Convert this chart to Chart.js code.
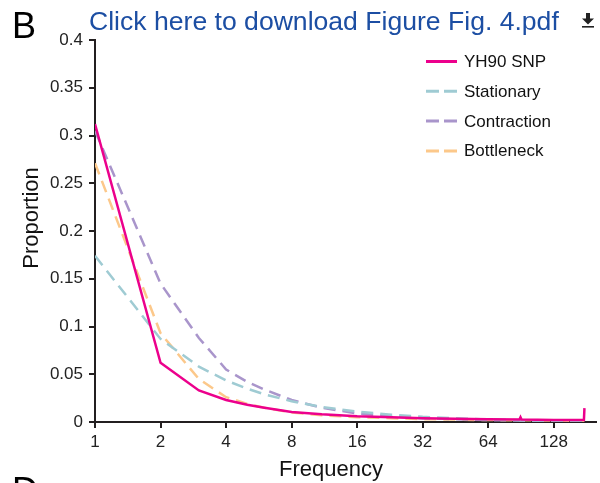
<!DOCTYPE html>
<html>
<head>
<meta charset="utf-8">
<script src="https://cdn.jsdelivr.net/npm/chart.js@4"></script>
<style>
  html, body { margin: 0; padding: 0; background: #fff; }
  canvas { display: block; }
</style>
</head>
<body>
<canvas id="c" width="600" height="483"></canvas>
<script>
// ---- data ----
const seriesLabels = ["YH90 SNP", "Stationary", "Contraction", "Bottleneck"];
const xTickValues = [1, 2, 4, 8, 16, 32, 64, 128];
const yTickStep = 0.05;

const yh90Freq = [1, 2, 3, 4, 5, 6, 8, 11, 16, 23, 32, 45, 64, 89, 90, 91, 128, 176, 177];
const yh90Prop = [0.312, 0.062, 0.033, 0.023, 0.018, 0.015, 0.0105, 0.008, 0.006, 0.005, 0.004, 0.0035, 0.003, 0.0026, 0.005, 0.0026, 0.002, 0.002, 0.0145];

const stationaryFreq = [1, 2, 3, 4, 5, 6, 8, 11, 16, 23, 32, 45, 64, 90, 128, 177];
const stationaryProp = [0.174, 0.087, 0.058, 0.0435, 0.035, 0.029, 0.0218, 0.0158, 0.0109, 0.0076, 0.0054, 0.0039, 0.0027, 0.0019, 0.0014, 0.001];

const contractionFreq = [1, 2, 3, 4, 5, 6, 8, 11, 16, 23, 32, 45, 64, 90, 128, 177];
const contractionProp = [0.305, 0.145, 0.088, 0.055, 0.042, 0.034, 0.023, 0.015, 0.009, 0.006, 0.004, 0.003, 0.002, 0.0015, 0.001, 0.0008];

const bottleneckFreq = [1, 2, 3, 4, 5, 6, 8, 11, 16, 23, 32, 45, 64, 90, 128, 177];
const bottleneckProp = [0.271, 0.093, 0.045, 0.026, 0.019, 0.015, 0.010, 0.007, 0.005, 0.004, 0.003, 0.0025, 0.002, 0.0018, 0.0015, 0.0012];

// ---- styles ----
const colors = ["#ec008c", "#9fcbd3", "#a995cb", "#fcc88a"];
const dashes = [[], [12, 7], [12, 7], [12, 7]];
const FONT = "'Liberation Sans', Arial, sans-serif";
const AXIS = "#231f20";

function pts(xs, ys) { return xs.map((x, i) => ({ x: x, y: ys[i] })); }
const allFreq = [yh90Freq, stationaryFreq, contractionFreq, bottleneckFreq];
const allProp = [yh90Prop, stationaryProp, contractionProp, bottleneckProp];

const datasets = seriesLabels.map((lab, i) => ({
  label: lab,
  data: pts(allFreq[i], allProp[i]),
  borderColor: colors[i],
  borderWidth: i === 0 ? 2.5 : 2.5,
  borderDash: dashes[i],
  pointRadius: 0,
  fill: false,
  tension: 0
}));

const decor = {
  id: 'decor',
  afterDraw(chart) {
    const ctx = chart.ctx;
    ctx.save();
    // panel letters
    ctx.fillStyle = "#000";
    ctx.font = "36px " + FONT;
    ctx.textBaseline = "alphabetic";
    ctx.textAlign = "left";
    ctx.fillText("B", 12, 38);
    ctx.fillText("D", 12, 503);
    // title link
    const title = "Click here to download Figure Fig. 4.pdf";
    let fs = 26;
    ctx.font = fs + "px " + FONT;
    const w = ctx.measureText(title).width;
    fs = fs * 470 / w;
    ctx.font = fs.toFixed(2) + "px " + FONT;
    ctx.fillStyle = "#1c4ea3";
    ctx.fillText(title, 89, 30);
    // download icon
    ctx.fillStyle = "#222";
    ctx.fillRect(586, 13, 4, 6);
    ctx.beginPath();
    ctx.moveTo(582, 18.5); ctx.lineTo(594, 18.5); ctx.lineTo(588, 24.5); ctx.closePath();
    ctx.fill();
    ctx.fillRect(582, 26, 12, 1.6);
    // axis titles
    ctx.fillStyle = "#111";
    ctx.font = "22px " + FONT;
    ctx.textAlign = "center";
    ctx.fillText("Frequency", 331, 476);
    ctx.save();
    ctx.translate(38, 218);
    ctx.rotate(-Math.PI / 2);
    ctx.fillText("Proportion", 0, 0);
    ctx.restore();
    // legend
    ctx.font = "17px " + FONT;
    ctx.textAlign = "left";
    chart.data.datasets.forEach((ds, i) => {
      const y = 61.5 + i * 29.8;
      ctx.beginPath();
      ctx.setLineDash(i === 0 ? [] : [13, 5]);
      ctx.strokeStyle = ds.borderColor;
      ctx.lineWidth = 3;
      ctx.moveTo(426, y); ctx.lineTo(457, y);
      ctx.stroke();
      ctx.setLineDash([]);
      ctx.fillStyle = "#111";
      ctx.fillText(ds.label, 464, y + 5.5);
    });
    ctx.restore();
  }
};

new Chart(document.getElementById('c'), {
  type: 'line',
  data: { datasets: datasets },
  options: {
    responsive: false,
    animation: false,
    devicePixelRatio: 1,
    layout: { padding: { top: 40, right: 4, left: 0, bottom: 0 } },
    plugins: { legend: { display: false }, tooltip: { enabled: false }, title: { display: false } },
    scales: {
      x: {
        type: 'logarithmic',
        min: 1, max: 200,
        afterBuildTicks(scale) { scale.ticks = xTickValues.map(v => ({ value: v })); },
        afterFit(scale) { scale.height = 61; },
        border: { display: true, color: AXIS, width: 2 },
        grid: { display: true, drawOnChartArea: false, drawTicks: true, tickLength: 6, tickColor: AXIS, lineWidth: 2 },
        ticks: {
          color: "#222", font: { family: FONT, size: 17 }, padding: 4,
          maxRotation: 0, autoSkip: false,
          callback: (v) => String(v)
        }
      },
      y: {
        type: 'linear',
        min: 0, max: 0.4,
        afterFit(scale) { scale.width = 95; },
        border: { display: true, color: AXIS, width: 2 },
        grid: { display: true, drawOnChartArea: false, drawTicks: true, tickLength: 6, tickColor: AXIS, lineWidth: 2 },
        ticks: {
          stepSize: yTickStep,
          color: "#222", font: { family: FONT, size: 17 }, padding: 6,
          callback: (v) => String(+v.toFixed(2))
        }
      }
    }
  },
  plugins: [decor]
});
</script>
</body>
</html>
